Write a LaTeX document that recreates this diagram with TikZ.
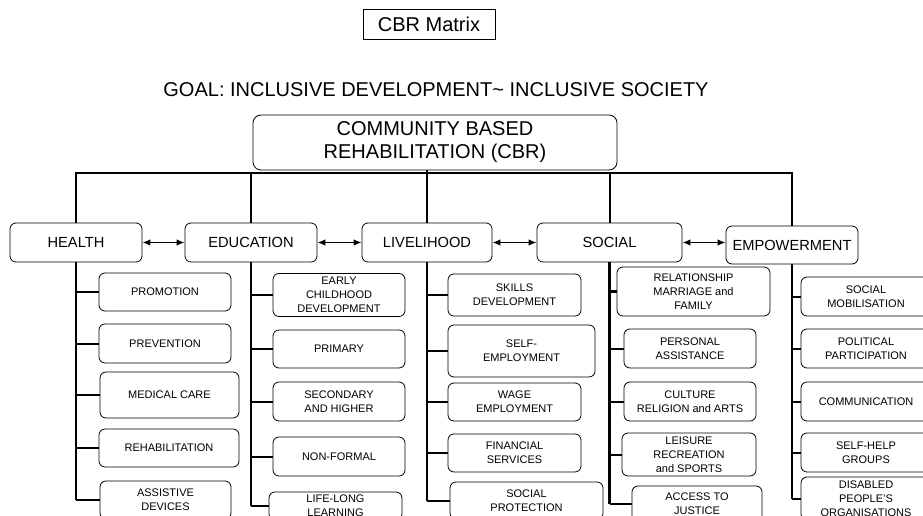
\documentclass[tikz,border=0pt]{standalone}
\usepackage{fontspec}
\setmainfont{Liberation Sans}
\usetikzlibrary{arrows.meta}

\tikzset{
  sz/.style 2 args={minimum width=#1*0.75pt, minimum height=#2*0.75pt},
  subbox/.style={draw, rounded corners=4.5pt, line width=0.6pt, inner sep=0pt,
    align=center, font=\fontsize{8.25}{10.5}\selectfont},
  areabox/.style={draw, rounded corners=4.5pt, line width=0.6pt, inner sep=0pt,
    font=\fontsize{11}{13}\selectfont},
  bus/.style={line width=1.5pt},
  trunk/.style={line width=2.2pt},
  twig/.style={line width=1.5pt},
  link/.style={line width=1.2pt, {Latex[length=6pt,width=5pt]}-{Latex[length=6pt,width=5pt]}},
}

\begin{document}
\begin{tikzpicture}[x=0.75pt,y=-0.75pt]
    \useasboundingbox (0,0) rectangle (923,516);
    \clip (0,0) rectangle (923,516);

    % Heading and goal
    \node[draw, line width=0.6pt, inner sep=0pt, sz={132}{30}, font=\fontsize{15}{17}\selectfont] (matrixlbl) at (429,24) {CBR Matrix};
    \node[font=\fontsize{15}{17}\selectfont] (goal) at (436,90) {GOAL: INCLUSIVE DEVELOPMENT\textasciitilde{} INCLUSIVE SOCIETY};
    \node[draw, rounded corners=6pt, line width=0.6pt, inner sep=0pt, sz={364}{55}, align=center,
      font=\fontsize{15}{17.25}\selectfont] (cbr) at (435,142.5) {COMMUNITY BASED\\REHABILITATION (CBR)};
    \coordinate (bus) at (0,173);

    % The five components
    \node[areabox, sz={132}{39}] (health) at (76,242.5) {HEALTH};
    \node[areabox, sz={132}{39}] (edu) at (251,242.5) {EDUCATION};
    \node[areabox, sz={130}{39}] (liveli) at (427,242.5) {LIVELIHOOD};
    \node[areabox, sz={145}{39}] (social) at (609.5,242.5) {SOCIAL};
    \node[areabox, sz={132}{38}] (empower) at (792,245) {EMPOWERMENT};

    \draw[bus] (health.north) -- (health.north |- bus) -- (empower.north |- bus) -- (empower.north);
    \draw[bus] (edu.north) -- (edu.north |- bus);
    \draw[bus] (social.north) -- (social.north |- bus);
    \draw[bus] (liveli.north) -- (liveli.north |- cbr.south);

    \draw[link] (health.east) -- (edu.west);
    \draw[link] (edu.east) -- (liveli.west);
    \draw[link] (liveli.east) -- (social.west);
    \draw[link] (social.east) -- (social.east -| empower.west);

    % Health
    \node[subbox, sz={132}{38}] (h1) at (165,292) {PROMOTION};
    \node[subbox, sz={132}{39}] (h2) at (165,343.5) {PREVENTION};
    \node[subbox, sz={139}{46}] (h3) at (169.5,395) {MEDICAL CARE};
    \node[subbox, sz={140}{38}] (h4) at (169,448) {REHABILITATION};
    \node[subbox, sz={131}{38}] (h5) at (165.5,500) {ASSISTIVE\\DEVICES};

    % Education
    \node[subbox, sz={132}{43}] (e1) at (339,295) {EARLY\\CHILDHOOD\\DEVELOPMENT};
    \node[subbox, sz={132}{38}] (e2) at (339,349) {PRIMARY};
    \node[subbox, sz={132}{39}] (e3) at (339,401.5) {SECONDARY\\AND HIGHER};
    \node[subbox, sz={132}{39}] (e4) at (339,456.5) {NON-FORMAL};
    \node[subbox, sz={133}{28}] (e5) at (335.5,506) {LIFE-LONG\\LEARNING};

    % Livelihood
    \node[subbox, sz={133}{42}] (l1) at (514.5,295) {SKILLS\\DEVELOPMENT};
    \node[subbox, sz={147}{52}] (l2) at (521.5,351) {SELF-\\EMPLOYMENT};
    \node[subbox, sz={133}{38}] (l3) at (514.5,402) {WAGE\\EMPLOYMENT};
    \node[subbox, sz={133}{38}] (l4) at (514.5,453) {FINANCIAL\\SERVICES};
    \node[subbox, sz={153}{37}] (l5) at (526.5,500.5) {SOCIAL\\PROTECTION};

    % Social
    \node[subbox, sz={153}{49}] (s1) at (693.5,291.5) {RELATIONSHIP\\MARRIAGE and\\FAMILY};
    \node[subbox, sz={132}{39}] (s2) at (690,348.5) {PERSONAL\\ASSISTANCE};
    \node[subbox, sz={132}{39}] (s3) at (690,401.5) {CULTURE\\RELIGION and ARTS};
    \node[subbox, sz={134}{43}] (s4) at (689,454.5) {LEISURE\\RECREATION\\and SPORTS};
    \node[subbox, sz={130}{36}] (s5) at (697,504) {ACCESS TO\\JUSTICE};

    % Empowerment
    \node[subbox, sz={130}{39}] (p1) at (866,296.5) {SOCIAL\\MOBILISATION};
    \node[subbox, sz={130}{39}] (p2) at (866,348.5) {POLITICAL\\PARTICIPATION};
    \node[subbox, sz={130}{39}] (p3) at (866,401.5) {COMMUNICATION};
    \node[subbox, sz={130}{39}] (p4) at (866,452.5) {SELF-HELP\\GROUPS};
    \node[subbox, sz={130}{43}] (p5) at (866,498.5) {DISABLED\\PEOPLE'S\\ORGANISATIONS};

    % Trunks and branches under each component
    \foreach \col/\pre in {health/h, edu/e, liveli/l, social/s, empower/p} {
        \draw[trunk] (\col.south) -- (\col.south |- \pre5.west);
        \foreach \i in {1,...,5}
            \draw[twig] (\pre\i.west) -- (\pre\i.west -| \col.south);
    }
\end{tikzpicture}
\end{document}
